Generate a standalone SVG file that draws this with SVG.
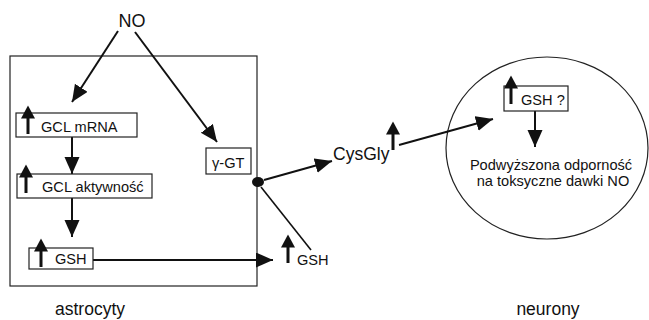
<svg xmlns="http://www.w3.org/2000/svg" xmlns:xlink="http://www.w3.org/1999/xlink" width="649" height="320" viewBox="0 0 649 320">
<style>
text { font-family: "Liberation Sans", Arial, sans-serif; fill: #111; }
.box { fill: #ffffff; stroke: #222; stroke-width: 1.2; }
.frame { fill: none; stroke: #222; stroke-width: 1.2; }
.conn { fill: none; stroke: #111; stroke-width: 2; }
.thin { fill: none; stroke: #111; stroke-width: 1.6; }
.lbl { font-size: 14.6px; }
.big { font-size: 17.5px; }
</style>
<defs>
<marker id="ah" markerUnits="userSpaceOnUse" markerWidth="18" markerHeight="16" refX="17" refY="7.5" orient="auto" viewBox="0 0 18 16">
<path d="M0,0 L17,7.5 L0,15 Z" fill="#111"/>
</marker>
<g id="up">
<rect x="-1.5" y="-17" width="3" height="17" fill="#111"/>
<path d="M-7,-15.5 L7,-15.5 L0,-28.5 Z" fill="#111"/>
</g>
</defs>
<rect class="frame" x="10" y="56" width="247" height="230"/>
<ellipse class="frame" cx="547" cy="148" rx="101" ry="91"/>
<g id="connectors">
<line class="conn" x1="118" y1="31" x2="72" y2="102" marker-end="url(#ah)"/>
<line class="conn" x1="135" y1="32" x2="217" y2="142" marker-end="url(#ah)"/>
<line class="conn" x1="72" y1="137" x2="72" y2="174" marker-end="url(#ah)"/>
<line class="conn" x1="72" y1="198" x2="72" y2="237" marker-end="url(#ah)"/>
<line class="conn" x1="93" y1="260" x2="273" y2="260" marker-end="url(#ah)"/>
<line class="conn" x1="264" y1="180" x2="332" y2="161" marker-end="url(#ah)"/>
<line class="thin" x1="261" y1="187" x2="311" y2="250"/>
<line class="conn" x1="399" y1="145" x2="493" y2="119" marker-end="url(#ah)"/>
<line class="conn" x1="535" y1="111" x2="535" y2="147" marker-end="url(#ah)"/>
<ellipse cx="258" cy="182" rx="6" ry="5" fill="#111"/>
</g>
<g id="no">
<text x="132" y="27" text-anchor="middle" font-size="18">NO</text>
</g>
<g id="gcl-mrna">
<rect class="box" x="16" y="113" width="121" height="24"/>
<use xlink:href="#up" x="28" y="134"/>
<text class="lbl" x="41" y="132">GCL mRNA</text>
</g>
<g id="gcl-akt">
<rect class="box" x="17" y="174" width="135" height="24"/>
<use xlink:href="#up" x="26" y="193"/>
<text class="lbl" x="42" y="192">GCL aktywność</text>
</g>
<g id="gsh-in">
<rect class="box" x="29" y="248" width="64" height="21"/>
<use xlink:href="#up" x="41" y="267"/>
<text class="lbl" x="55" y="264">GSH</text>
</g>
<g id="ggt">
<rect class="box" x="206" y="148" width="45" height="26"/>
<text class="lbl" x="212" y="168">γ-GT</text>
</g>
<g id="gsh-out">
<use xlink:href="#up" x="288" y="263"/>
<text class="lbl" x="297" y="265">GSH</text>
</g>
<g id="cysgly">
<text class="big" x="333" y="160">CysGly</text>
<use xlink:href="#up" x="393" y="150"/>
</g>
<g id="gsh-q">
<rect class="box" x="504" y="86" width="64" height="25"/>
<use xlink:href="#up" x="511" y="104"/>
<text class="lbl" x="521" y="105">GSH ?</text>
</g>
<g id="odpornosc">
<text class="lbl" x="551" y="170" text-anchor="middle">Podwyższona odporność</text>
<text class="lbl" x="553" y="185.5" text-anchor="middle">na toksyczne dawki NO</text>
</g>
<g id="astrocyty">
<text x="90" y="315" text-anchor="middle" font-size="17.5">astrocyty</text>
</g>
<g id="neurony">
<text x="548" y="315" text-anchor="middle" font-size="17.5">neurony</text>
</g>
</svg>
